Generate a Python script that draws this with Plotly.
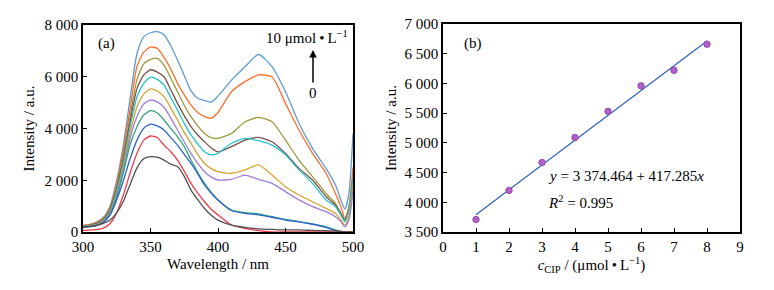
import plotly.graph_objects as go

# ---------------- data ----------------
wavelength = [300, 305, 310, 315, 320, 325, 330, 335, 340, 345, 350, 355, 360, 365, 370, 375, 380,
              385, 390, 395, 400, 410, 420, 430, 440, 450, 460, 470, 480, 487, 491, 494, 497, 500]

conc_labels = ["10", "9", "8", "7", "6", "5", "4", "3", "2", "1", "0"]

i_10 = [250, 290, 380, 560, 1000, 2000, 3400, 5200, 6900, 7550, 7700, 7740, 7620, 7200, 6650, 6050, 5450,
        5170, 5080, 5020, 5250, 5870, 6390, 6860, 6390, 5420, 4200, 3230, 2460, 1820, 1240, 880, 1500, 3800]
i_9 = [250, 280, 360, 530, 950, 1900, 3200, 4800, 6400, 6950, 7150, 7100, 6750, 6300, 5750, 5300, 4900,
       4620, 4460, 4400, 4620, 5420, 5810, 6070, 6000, 4970, 3940, 3040, 2270, 1490, 980, 530, 980, 2500]
i_8 = [230, 270, 340, 500, 900, 1800, 3000, 4500, 5900, 6500, 6670, 6710, 6450, 5950, 5420, 4900, 4460,
       4100, 3810, 3650, 3620, 3810, 4260, 4430, 4260, 3550, 2780, 2140, 1490, 1110, 720, 460, 980, 2200]
i_7 = [220, 260, 320, 480, 850, 1700, 2850, 4300, 5550, 6070, 6270, 6180, 6000, 5500, 4970, 4500, 4070,
       3750, 3490, 3250, 3100, 3300, 3550, 3660, 3490, 3040, 2460, 2010, 1370, 1040, 720, 460, 850, 2000]
i_6 = [210, 250, 300, 450, 800, 1600, 2700, 4100, 5230, 5740, 5980, 5900, 5680, 5200, 4710, 4200, 3750,
       3400, 3100, 2980, 3040, 3430, 3620, 3530, 3360, 2980, 2400, 1880, 1240, 980, 660, 400, 850, 2000]
i_5 = [200, 240, 290, 430, 750, 1500, 2550, 3850, 4840, 5330, 5530, 5450, 5230, 4800, 4330, 3850, 3430,
       3000, 2650, 2450, 2330, 2270, 2400, 2590, 2200, 1750, 1430, 1170, 910, 720, 460, 270, 590, 1800]
i_4 = [190, 230, 280, 410, 720, 1450, 2450, 3650, 4460, 4950, 5100, 5030, 4820, 4400, 3940, 3480, 3040,
       2650, 2330, 2120, 2010, 2035, 2200, 2035, 1880, 1560, 1240, 980, 790, 590, 400, 200, 460, 1600]
i_3 = [180, 215, 260, 390, 680, 1350, 2300, 3400, 4070, 4520, 4690, 4600, 4330, 4000, 3680, 3300, 2780,
       2300, 1880, 1530, 1240, 850, 750, 700, 590, 490, 400, 310, 200, 80, 0, 0, 0, 0]
i_2 = [170, 205, 250, 370, 650, 1250, 2000, 2850, 3550, 4010, 4170, 4100, 3940, 3650, 3360, 3000, 2650,
       2250, 1820, 1500, 1240, 820, 720, 660, 570, 460, 390, 300, 180, 50, 0, 0, 0, 0]
i_1 = [60, 70, 90, 150, 330, 750, 1450, 2300, 3040, 3550, 3710, 3650, 3360, 3100, 2780, 2350, 1880,
       1500, 1170, 880, 660, 270, 140, 50, 0, 0, 0, 0, 0, 0, 0, 0, 0, 0]
i_0 = [190, 220, 260, 330, 460, 750, 1200, 1850, 2480, 2830, 2910, 2890, 2780, 2620, 2530, 2150, 1620,
       1250, 910, 650, 460, 270, 180, 120, 100, 80, 80, 60, 50, 40, 30, 0, 0, 0]

spectra = [i_10, i_9, i_8, i_7, i_6, i_5, i_4, i_3, i_2, i_1, i_0]
colors = ["#5E9BD6", "#FF6B2C", "#9C9A3C", "#7D4E4E", "#22C3C6", "#D9A032",
          "#9E7FD6", "#2EA57A", "#2E62C9", "#F03A4A", "#505050"]

c_cip = [1, 2, 3, 4, 5, 6, 7, 8]
intensity_b = [3710, 4200, 4670, 5090, 5530, 5960, 6220, 6660]
fit_intercept = 3374.464
fit_slope = 417.285

ya_ticks = [0, 2000, 4000, 6000, 8000]
ya_text = ["0", "2 000", "4 000", "6 000", "8 000"]
yb_ticks = [3500, 4000, 4500, 5000, 5500, 6000, 6500, 7000]
yb_text = ["3 500", "4 000", "4 500", "5 000", "5 500", "6 000", "6 500", "7 000"]
xa_ticks = [300, 350, 400, 450, 500]
xb_ticks = [0, 1, 2, 3, 4, 5, 6, 7, 8, 9]

# ---------------- figure ----------------
FONT = "Liberation Serif"
W, H = 774, 290
OFF = 8  # page body margin offset in the browser


def fx(px):
    return (px - OFF) / W


def fy(py):
    return 1 - (py - OFF) / H


fig = go.Figure()

for lab, vals, col in zip(conc_labels, spectra, colors):
    fig.add_trace(go.Scatter(x=wavelength, y=vals, mode="lines", name=lab,
                             line=dict(color=col, width=1.3, shape="spline", smoothing=0.6),
                             xaxis="x", yaxis="y", showlegend=False))

fit_x = [c_cip[0], c_cip[-1]]
fit_y = [fit_intercept + fit_slope * v for v in fit_x]
fig.add_trace(go.Scatter(x=fit_x, y=fit_y, mode="lines", line=dict(color="#2E5FBF", width=1.2),
                         xaxis="x2", yaxis="y2", showlegend=False))
fig.add_trace(go.Scatter(x=c_cip, y=intensity_b, mode="markers",
                         marker=dict(color="#B060C8", size=6.5, line=dict(color="#8A3FA8", width=0.8)),
                         xaxis="x2", yaxis="y2", showlegend=False))

axis_common = dict(showline=True, linecolor="black", linewidth=1.5, mirror=True, automargin=False,
                   ticks="inside", ticklen=4, tickcolor="black", showgrid=False, zeroline=False,
                   tickfont=dict(family=FONT, size=15, color="black"))

fig.update_layout(
    width=W, height=H,
    margin=dict(l=0, r=0, t=0, b=0),
    paper_bgcolor="white", plot_bgcolor="white",
    font=dict(family=FONT, size=15, color="black"),
    xaxis=dict(domain=[fx(83), fx(353)], range=[300, 500], tickvals=xa_ticks,
               title=dict(text="Wavelength / nm", font=dict(family=FONT, size=15), standoff=5),
               anchor="y", **axis_common),
    yaxis=dict(domain=[fy(232), fy(25)], range=[0, 8000], tickvals=ya_ticks, ticktext=ya_text,
               title=dict(text="Intensity / a.u.", font=dict(family=FONT, size=15), standoff=6),
               anchor="x", **axis_common),
    xaxis2=dict(domain=[fx(443), fx(740)], range=[0, 9], tickvals=xb_ticks,
                title=dict(text="<i>c</i><sub>CIP</sub> / (μmol\u2009•\u2009L<sup>−1</sup>)",
                           font=dict(family=FONT, size=15), standoff=5),
                anchor="y2", **axis_common),
    yaxis2=dict(domain=[fy(232), fy(24)], range=[3500, 7000], tickvals=yb_ticks, ticktext=yb_text,
                title=dict(text="Intensity / a.u.", font=dict(family=FONT, size=15), standoff=4),
                anchor="x2", **axis_common),
)

annots = [
    dict(text="(a)", x=fx(96), y=fy(43), xanchor="left"),
    dict(text="10 μmol\u2009•\u2009L<sup>−1</sup>", x=fx(350), y=fy(37), xanchor="right"),
    dict(text="0", x=fx(313), y=fy(93), xanchor="center"),
    dict(text="(b)", x=fx(462), y=fy(43), xanchor="left"),
    dict(text="<i>y</i> = 3 374.464 + 417.285<i>x</i>", x=fx(546), y=fy(176), xanchor="left"),
    dict(text="<i>R</i><sup>2</sup> = 0.995", x=fx(546), y=fy(202), xanchor="left"),
]
for a in annots:
    fig.add_annotation(text=a["text"], x=a["x"], y=a["y"], xref="paper", yref="paper",
                       xanchor=a["xanchor"], yanchor="middle", showarrow=False,
                       font=dict(family=FONT, size=15, color="black"))

# arrow from "0" up toward the label (tail offset in pixels)
fig.add_annotation(x=fx(313), y=fy(50), ax=0, ay=34, xref="paper", yref="paper",
                   text="", showarrow=True, arrowhead=2,
                   arrowsize=1, arrowwidth=1.5, arrowcolor="black")

fig.write_html("out.html")
